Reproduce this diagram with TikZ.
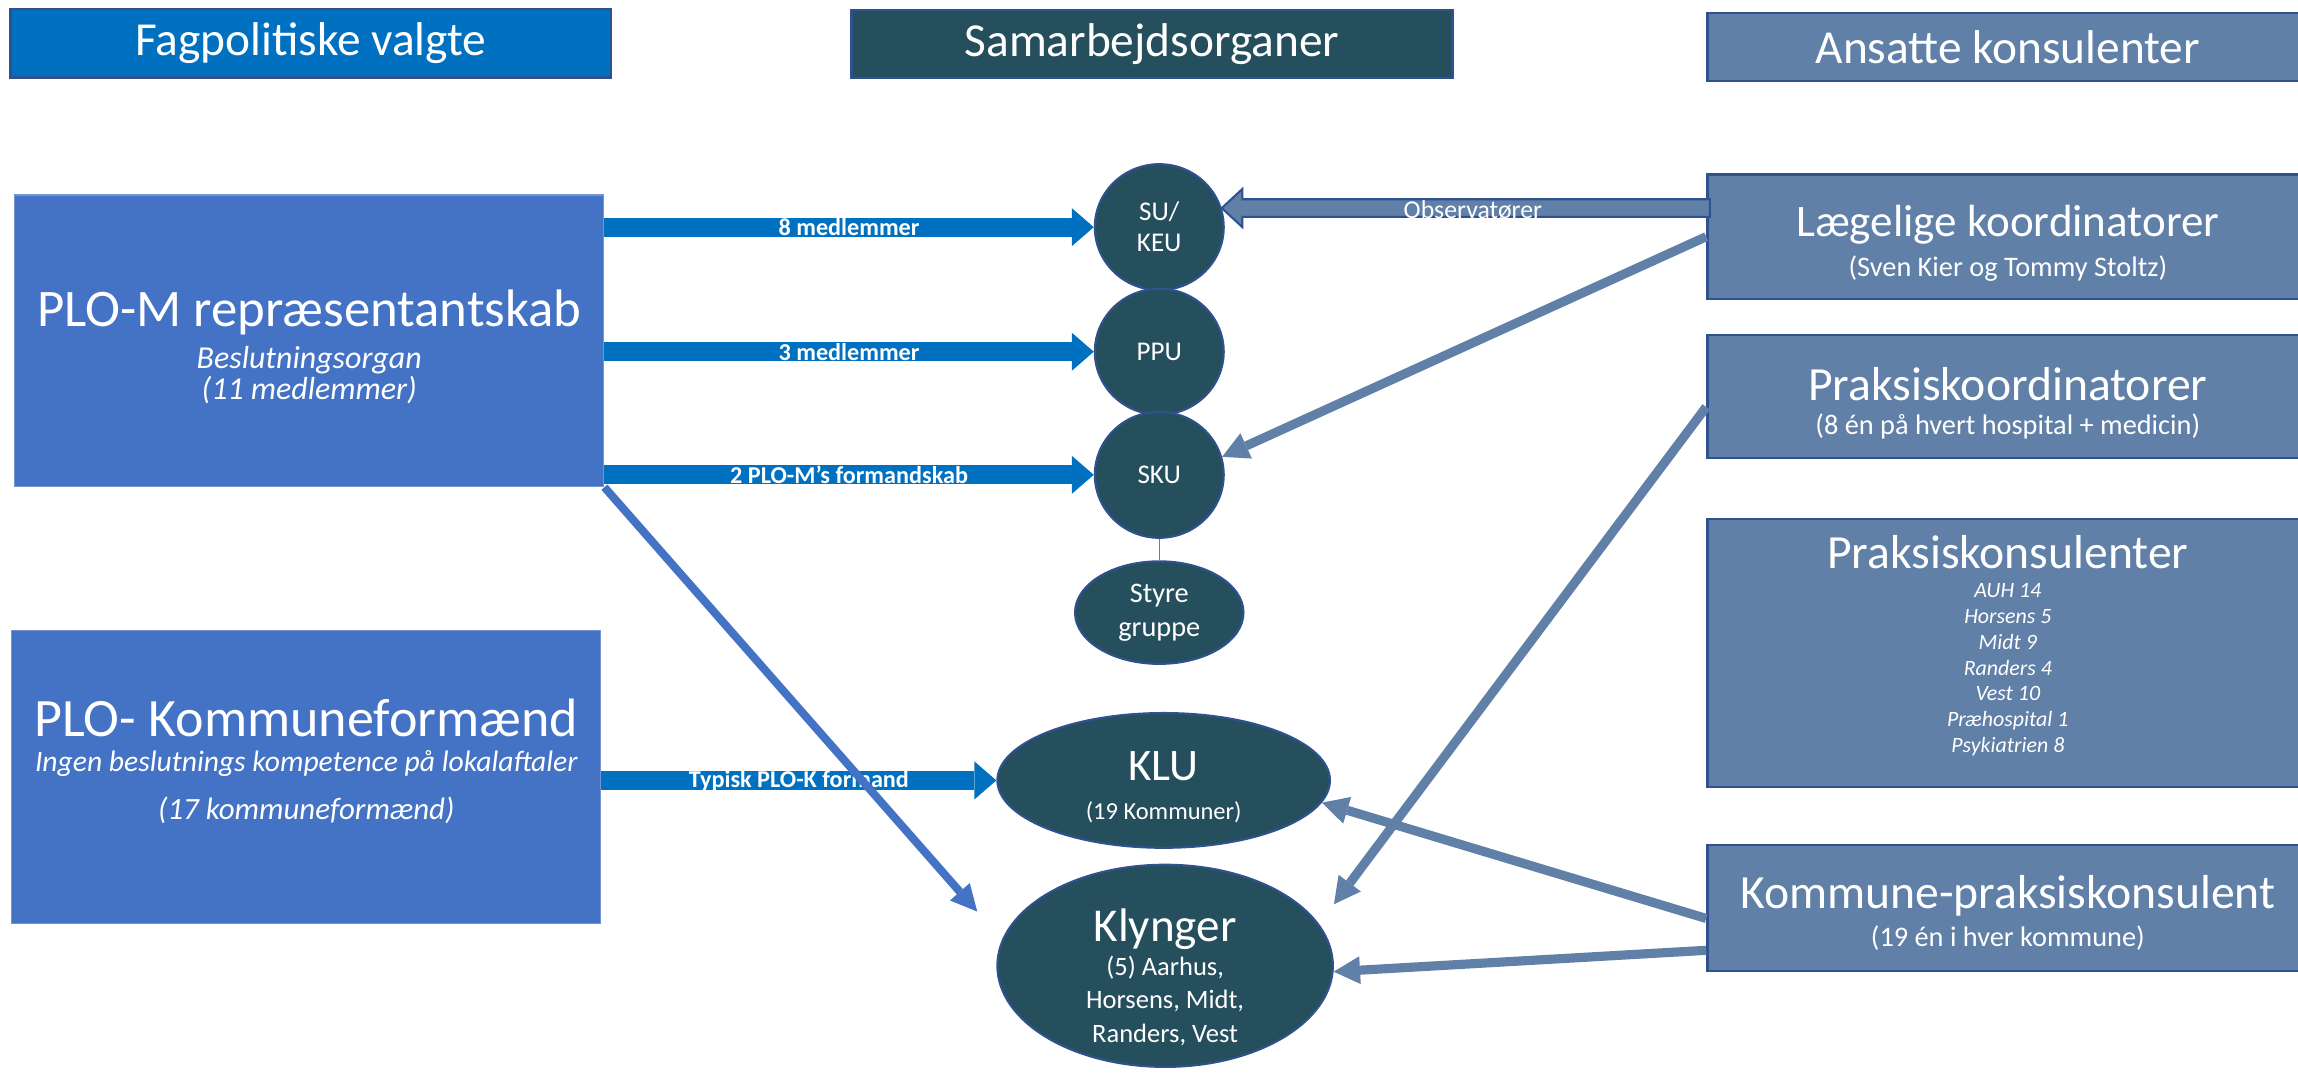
\documentclass[tikz,border=0pt]{standalone}
\usepackage{fontspec}
\setmainfont{Carlito}
\usetikzlibrary{arrows.meta,shapes.geometric}
\definecolor{hdrblue}{RGB}{0,112,192}
\definecolor{boxblue}{RGB}{68,114,196}
\definecolor{orgteal}{RGB}{38,79,94}
\definecolor{slate}{RGB}{96,128,167}
\definecolor{edgeblue}{RGB}{47,82,143}
\newcommand{\fsz}[2]{\fontsize{#1}{#2}\selectfont}

\begin{document}
\begin{tikzpicture}[x=0.02cm, y=-0.02cm,
    every node/.style={text=white, align=center, inner sep=0pt},
    hdr/.style={rectangle, draw=edgeblue, line width=1pt,
      minimum width=8.2cm, minimum height=0.93cm, font=\fsz{18.4}{22}},
    plobox/.style={rectangle, fill=boxblue, draw=boxblue!75!white,
      line width=0.5pt, minimum width=8.04cm, minimum height=4cm},
    konsbox/.style={rectangle, fill=slate, draw=edgeblue, line width=1pt,
      minimum width=8.2cm},
    organ/.style={ellipse, fill=orgteal, draw=edgeblue, line width=0.8pt},
    blockarrow/.style={draw=hdrblue, line width=0.26cm,
      -{Triangle[length=0.3cm,width=0.52cm,line width=0pt]}},
    thinarrow/.style={draw=slate, line width=0.125cm,
      -{Triangle[length=0.36cm,width=0.38cm,line width=0pt]}},
    diagarrow/.style={draw=boxblue, line width=0.11cm,
      -{Triangle[length=0.36cm,width=0.36cm,line width=0pt]}},
    obsarrow/.style={fill=slate, draw=edgeblue, line width=0.8pt},
    arrowtext/.style={font=\bfseries\fsz{9.4}{10}},
    title/.style={font=\fsz{18.5}{22}},
    sub/.style={font=\fsz{11}{13}}]

  \useasboundingbox (0,0) rectangle (1568,733);

  % kolonneoverskrifter
  \node[hdr, fill=hdrblue] (fag) at (212,29.5) {Fagpolitiske valgte};
  \node[hdr, fill=orgteal] (samarb) at (786,30) {Samarbejdsorganer};
  \node[hdr, fill=slate] (ansatte) at (1370,32) {Ansatte konsulenter};

  % fagpolitiske valgte
  \node[plobox, minimum height=3.98cm] (plom) at (211,232.5) {};
  \node[font=\fsz{20.5}{24}] (plomtitle) at (211,213) {PLO-M repræsentantskab};
  \node[font=\itshape\fsz{12.4}{12}] (plomsub) at (211,256) {Beslutningsorgan\\(11 medlemmer)};

  \node[plobox] (plok) at (209,530) {};
  \node[font=\fsz{21}{24}] (ploktitle) at (209,490) {PLO- Kommuneformænd};
  \node[font=\itshape\fsz{11.5}{14}] (ploksub) at (209,521) {Ingen beslutnings kompetence på lokalaftaler};
  \node[font=\itshape\fsz{12}{14}] (plokantal) at (209,553) {(17 kommuneformænd)};

  % samarbejdsorganer
  \node[organ, minimum width=1.76cm, minimum height=1.72cm, font=\fsz{10.5}{12}] (su) at (791,155) {SU/\\KEU};
  \node[organ, minimum width=1.76cm, minimum height=1.72cm, font=\fsz{10.5}{12}] (ppu) at (791,240) {PPU};
  \node[organ, minimum width=1.76cm, minimum height=1.72cm, font=\fsz{10.5}{12}] (sku) at (791,324) {SKU};
  \node[organ, minimum width=2.3cm, minimum height=1.4cm, font=\fsz{11}{13}] (styre) at (791,418) {Styre\\gruppe};
  \node[organ, minimum width=4.54cm, minimum height=1.84cm] (klu) at (794,532.5) {};
  \node[font=\fsz{9.5}{15}] (klutext) at (794,537) {{\fsz{17.5}{20}KLU}\\(19 Kommuner)};
  \node[organ, minimum width=4.58cm, minimum height=2.76cm] (klynger) at (795,659) {};
  \node[font=\fsz{10.3}{13}] (klyngertext) at (795,667)
    {{\fsz{18.3}{22}Klynger}\\(5) Aarhus,\\Horsens, Midt,\\Randers, Vest};
  \draw[slate, line width=0.5pt] (sku) -- (styre);

  % ansatte konsulenter
  \node[konsbox, minimum height=1.7cm] (laeg) at (1370,161.5) {};
  \node[font=\fsz{17.5}{20}] (laegtitle) at (1370,153) {Lægelige koordinatorer};
  \node[sub] (laegsub) at (1370,183) {(Sven Kier og Tommy Stoltz)};

  \node[konsbox, minimum height=1.68cm] (pkoord) at (1370,270.5) {};
  \node[title] (pkoordtitle) at (1370,262) {Praksiskoordinatorer};
  \node[sub] (pkoordsub) at (1370,291) {(8 én på hvert hospital + medicin)};

  \node[konsbox, minimum height=3.66cm] (pkons) at (1370,445.5) {};
  \node[title] (pkonstitle) at (1370,377) {Praksiskonsulenter};
  \node[font=\itshape\fsz{8.5}{10}] (pkonsliste) at (1370,457)
    {AUH 14\\Horsens 5\\Midt 9\\Randers 4\\Vest 10\\Præhospital 1\\Psykiatrien 8};

  \node[konsbox, minimum height=1.72cm] (kpk) at (1370,619.5) {};
  \node[title] (kpktitle) at (1370,611) {Kommune-praksiskonsulent};
  \node[sub] (kpksub) at (1370,640) {(19 én i hver kommune)};

  % pile
  \draw[blockarrow] (plom.east |- su) -- (su) node[arrowtext, midway] (lbl8) {8 medlemmer};
  \draw[blockarrow] (plom.east |- ppu) -- (ppu) node[arrowtext, midway] (lbl3) {3 medlemmer};
  \draw[blockarrow] (plom.east |- sku) -- (sku) node[arrowtext, midway] (lbl2) {2 PLO-M’s formandskab};
  \draw[blockarrow] (plok.east |- klu) -- (klu) node[arrowtext, midway] (lblk) {Typisk PLO-K formand};

  \draw[obsarrow] (su.17) -- ++(14,-13) -- ++(0,7) -- ++(319,0) -- ++(0,12) -- ++(-319,0) -- ++(0,7) -- cycle;
  \node[font=\fsz{10}{12}] (obs) at (1005,143) {Observatører};

  \coordinate (klyA) at ([shift={(-13,-37)}]klynger.west);
  \coordinate (klyB) at ([shift={(0,-42)}]klynger.east);

  \draw[diagarrow] (plom.south east) -- (klyA);
  \draw[thinarrow] (laeg.west) -- (sku.16);
  \draw[thinarrow] (pkoord.182) -- (klyB);
  \draw[thinarrow] (kpk.182) -- (klu.-8);
  \draw[thinarrow] (kpk.188) -- (klynger.-2);
\end{tikzpicture}
\end{document}
